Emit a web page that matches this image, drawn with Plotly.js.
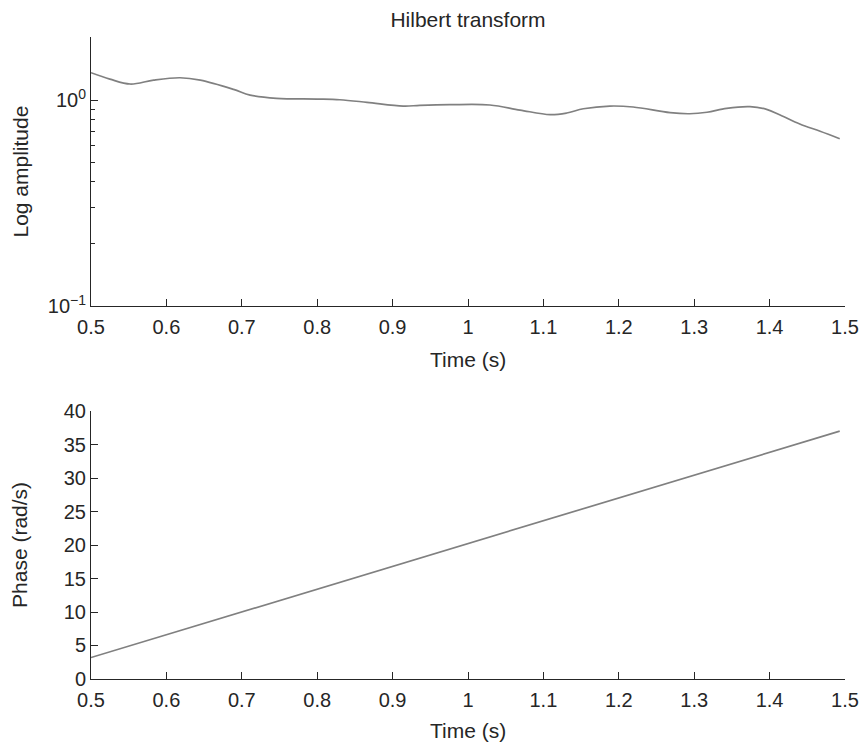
<!DOCTYPE html>
<html>
<head>
<meta charset="utf-8">
<script src="https://cdn.plot.ly/plotly-3.0.1.min.js"></script>
<style>
  html, body { margin: 0; padding: 0; background: #fff; }
  #chart { width: 863px; height: 744px; }
</style>
</head>
<body>
<div id="chart"></div>
<script>
// Envelope (log amplitude) of the analytic signal
const ampTime = [0.500, 0.525, 0.552, 0.583, 0.618, 0.645, 0.689, 0.711, 0.746, 0.800,
                 0.830, 0.866, 0.914, 0.936, 0.976, 1.029, 1.069, 1.109, 1.131, 1.153,
                 1.188, 1.219, 1.268, 1.294, 1.317, 1.343, 1.374, 1.396, 1.414, 1.440,
                 1.467, 1.493];
const amplitude = [1.357, 1.264, 1.196, 1.250, 1.283, 1.250, 1.127, 1.057, 1.019, 1.011,
                   1.003, 0.975, 0.935, 0.942, 0.949, 0.946, 0.894, 0.849, 0.865, 0.907,
                   0.935, 0.925, 0.868, 0.858, 0.872, 0.911, 0.928, 0.901, 0.846, 0.765,
                   0.705, 0.649];

// Unwrapped instantaneous phase
const phaseTime = [0.5, 0.7, 0.9, 1.0, 1.2, 1.493];
const phase = [3.2, 10.0, 16.8, 20.2, 27.0, 37.0];

// Axis ticks
const timeTicks = [0.5, 0.6, 0.7, 0.8, 0.9, 1.0, 1.1, 1.2, 1.3, 1.4, 1.5];
const timeLabels = ['0.5', '0.6', '0.7', '0.8', '0.9', '1', '1.1', '1.2', '1.3', '1.4', '1.5'];
const logTicks = [0.1, 1];
const logLabels = ['10<sup>\u22121</sup>', '10<sup>0</sup>'];
const logMinor = [0.2, 0.3, 0.4, 0.5, 0.6, 0.7, 0.8, 0.9];
const phaseTicks = [0, 5, 10, 15, 20, 25, 30, 35, 40];

const ink = '#262626';
const curve = '#808080';
const fontFamily = '"Liberation Sans", Arial, Helvetica, sans-serif';

const traces = [
  {
    x: ampTime, y: amplitude, xaxis: 'x', yaxis: 'y',
    type: 'scatter', mode: 'lines',
    line: { color: curve, width: 1.7, shape: 'spline', smoothing: 1 },
    hoverinfo: 'skip'
  },
  {
    x: phaseTime, y: phase, xaxis: 'x2', yaxis: 'y2',
    type: 'scatter', mode: 'lines',
    line: { color: curve, width: 1.7 },
    hoverinfo: 'skip'
  }
];

const baseAxis = {
  showline: true, linecolor: ink, linewidth: 1,
  showgrid: false, zeroline: false, mirror: false,
  ticks: 'inside', ticklen: 7, tickwidth: 1, tickcolor: ink,
  tickfont: { size: 20, color: ink, family: fontFamily }
};

const layout = {
  width: 863, height: 744,
  margin: { l: 91, r: 18, t: 37, b: 65 },
  paper_bgcolor: '#fff', plot_bgcolor: '#fff',
  showlegend: false,
  font: { family: fontFamily, color: ink },
  title: {
    text: 'Hilbert transform',
    font: { size: 21, color: ink, family: fontFamily },
    x: 0.5, xref: 'paper', xanchor: 'center',
    y: 1 - 20 / 744, yref: 'container', yanchor: 'middle'
  },
  xaxis: Object.assign({}, baseAxis, {
    domain: [0, 1], anchor: 'y', range: [0.5, 1.5], ticklabelstandoff: 3,
    tickmode: 'array', tickvals: timeTicks, ticktext: timeLabels
  }),
  yaxis: Object.assign({}, baseAxis, {
    domain: [0.581, 1], anchor: 'x', type: 'log', range: [-1, 0.306],
    tickmode: 'array', tickvals: logTicks, ticktext: logLabels,
    minor: { tickmode: 'array', tickvals: logMinor, ticks: 'inside', ticklen: 4, tickcolor: ink, tickwidth: 1 }
  }),
  xaxis2: Object.assign({}, baseAxis, {
    domain: [0, 1], anchor: 'y2', range: [0.5, 1.5], ticklabelstandoff: 3,
    tickmode: 'array', tickvals: timeTicks, ticktext: timeLabels
  }),
  yaxis2: Object.assign({}, baseAxis, {
    domain: [0, 0.4174], anchor: 'x2', range: [0, 40],
    tickmode: 'array', tickvals: phaseTicks
  }),
  annotations: [
    { text: 'Time (s)', xref: 'paper', yref: 'paper', x: 0.5, y: 0.4969,
      xanchor: 'center', yanchor: 'middle', showarrow: false,
      font: { size: 21, color: ink, family: fontFamily } },
    { text: 'Time (s)', xref: 'paper', yref: 'paper', x: 0.5, y: -0.0795,
      xanchor: 'center', yanchor: 'middle', showarrow: false,
      font: { size: 21, color: ink, family: fontFamily } },
    { text: 'Log amplitude', xref: 'paper', yref: 'paper', x: -0.0948, y: 0.7897,
      xanchor: 'center', yanchor: 'middle', textangle: -90, showarrow: false,
      font: { size: 21, color: ink, family: fontFamily } },
    { text: 'Phase (rad/s)', xref: 'paper', yref: 'paper', x: -0.0948, y: 0.208,
      xanchor: 'center', yanchor: 'middle', textangle: -90, showarrow: false,
      font: { size: 21, color: ink, family: fontFamily } }
  ]
};

Plotly.newPlot('chart', traces, layout, { staticPlot: true, displayModeBar: false });
</script>
</body>
</html>
